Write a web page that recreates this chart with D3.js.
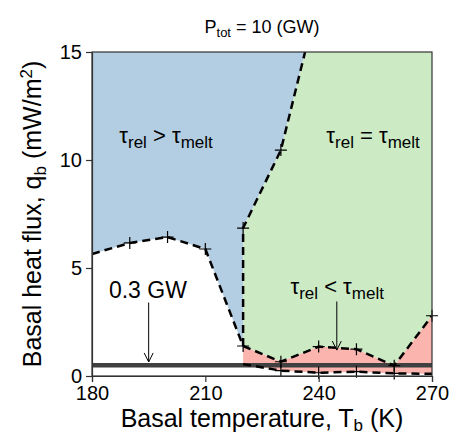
<!DOCTYPE html>
<html><head><meta charset="utf-8">
<script src="https://cdn.jsdelivr.net/npm/d3@7"></script>
<style>body{margin:0;background:#fff}svg{font-family:"Liberation Sans",Arial,sans-serif}</style>
</head><body><svg id="c" width="454" height="436"></svg>
<script>
// Data
const xTicks = [180, 210, 240, 270];
const yTicks = [0, 5, 10, 15];
// white / blue boundary (tau_rel > tau_melt lower limit)
const whiteT = [180, 190, 200, 210, 220];
const whiteQ = [5.65, 6.16, 6.43, 5.88, 1.39];
// blue / green boundary
const greenT = [220, 220, 230, 236.4];
const greenQ = [1.39, 6.85, 10.46, 15];
// red region upper boundary
const redUpT = [220, 230, 240, 250, 260, 270];
const redUpQ = [1.39, 0.66, 1.36, 1.24, 0.48, 2.79];
// red region lower boundary
const redLoT = [220, 230, 240, 250, 260, 270];
const redLoQ = [0.55, 0.25, 0.15, 0.2, 0.12, 0.1];
const powerLineQ = 0.5;   // 0.3 GW line
const markerT = [190, 200, 210, 220, 220, 230, 230, 240, 250, 260, 270, 230, 240, 250, 260];
const markerQ = [6.16, 6.43, 5.88, 1.39, 6.85, 10.46, 0.66, 1.36, 1.24, 0.48, 2.79, 0.25, 0.15, 0.2, 0.12];

const svg = d3.select("#c");
const m = {l: 92, t: 52, r: 22, b: 60};
const W = 454 - m.l - m.r, H = 436 - m.t - m.b;
const x = d3.scaleLinear().domain([180, 270]).range([0, W]);
const y = d3.scaleLinear().domain([0, 15]).range([H, 0]);
const g = svg.append("g").attr("transform", `translate(${m.l},${m.t})`);

g.append("clipPath").attr("id", "clip").append("rect").attr("width", W).attr("height", H);
const P = (T, Q) => T.map((t, i) => [x(t), y(Q[i])]);
const line = d3.line();
const area = g.append("g").attr("clip-path", "url(#clip)");

const white = P(whiteT, whiteQ);
const green = P(greenT, greenQ);
const redUp = P(redUpT, redUpQ);
const redLo = P(redLoT, redLoQ);

// blue polygon
const bluePoly = [[x(180), y(15)], ...green.slice().reverse(), ...white.slice().reverse()];
area.append("path").attr("d", line(bluePoly) + "Z").attr("fill", "#b3cde3");
// green polygon
const greenPoly = [...green, [x(270), y(15)], ...redUp.slice().reverse()];
area.append("path").attr("d", line(greenPoly) + "Z").attr("fill", "#ccebc5");
// red polygon
const redPoly = [...redUp, ...redLo.slice().reverse()];
area.append("path").attr("d", line(redPoly) + "Z").attr("fill", "#fbb4ae");

// power line
area.append("line").attr("x1", 0).attr("x2", W).attr("y1", y(powerLineQ)).attr("y2", y(powerLineQ))
  .attr("stroke", "#404040").attr("stroke-width", 4.5);

// dashed boundaries
const dash = {stroke: "#000", "stroke-width": 2.5, "stroke-dasharray": "8,5", fill: "none"};
[white, green, redUp, redLo].forEach(pts => {
  const p = area.append("path").attr("d", line(pts));
  Object.entries(dash).forEach(([k, v]) => p.attr(k, v));
});

// markers
markerT.forEach((t, i) => {
  const cx = x(t), cy = y(markerQ[i]);
  g.append("path").attr("d", `M${cx-6},${cy}H${cx+6}M${cx},${cy-6}V${cy+6}`)
    .attr("stroke", "#000").attr("stroke-width", 1.2).attr("fill", "none");
});

// frame
g.append("rect").attr("width", W).attr("height", H).attr("fill", "none").attr("stroke", "#333").attr("stroke-width", 1.2);

// axes
const fs = "20px";
const ax = g.append("g").attr("transform", `translate(0,${H})`)
  .call(d3.axisBottom(x).tickValues(xTicks).tickSize(6).tickPadding(4).tickFormat(d3.format("d")));
const ay = g.append("g").call(d3.axisLeft(y).tickValues(yTicks).tickSize(6).tickPadding(4).tickFormat(d3.format("d")));
[ax, ay].forEach(a => {
  a.select(".domain").attr("stroke", "#333").attr("stroke-width", 1.2);
  a.selectAll(".tick line").attr("stroke", "#333").attr("stroke-width", 1.2);
  a.selectAll("text").attr("font-size", fs).attr("fill", "#000").attr("font-family", "Liberation Sans, Arial, sans-serif");
});

// title
const title = svg.append("text").attr("x", m.l + W / 2).attr("y", 33).attr("text-anchor", "middle").attr("font-size", "18px");
title.append("tspan").text("P");
title.append("tspan").attr("font-size", "13px").attr("dy", 4).text("tot");
title.append("tspan").attr("dy", -4).text(" = 10 (GW)");

// x label
const xl = svg.append("text").attr("x", m.l + W / 2).attr("y", 427).attr("text-anchor", "middle").attr("font-size", "25px");
xl.append("tspan").text("Basal temperature, T");
xl.append("tspan").attr("font-size", "17px").attr("dy", 4).text("b");
xl.append("tspan").attr("dy", -4).text(" (K)");

// y label
const yl = svg.append("text").attr("transform", `translate(41,${m.t + H / 2}) rotate(-90)`).attr("text-anchor", "middle").attr("font-size", "25px");
yl.append("tspan").text("Basal heat flux, q");
yl.append("tspan").attr("font-size", "17px").attr("dy", 5).text("b");
yl.append("tspan").attr("dy", -5).text(" (mW/m");
yl.append("tspan").attr("font-size", "17px").attr("dy", -9).text("2");
yl.append("tspan").attr("dy", 9).text(")");

// region labels
function tauLabel(cx, cy, op) {
  const t = g.append("text").attr("x", cx).attr("y", cy).attr("text-anchor", "middle").attr("font-size", "22px");
  t.append("tspan").text("τ");
  t.append("tspan").attr("font-size", "17px").attr("dy", 5).text("rel");
  t.append("tspan").attr("dy", -5).text(" " + op + " τ");
  t.append("tspan").attr("font-size", "17px").attr("dy", 5).text("melt");
}
tauLabel(x(199.6), y(10.8), ">");
tauLabel(x(254.4), y(10.8), "=");
tauLabel(x(244.9), y(3.8), "<");

g.append("text").attr("x", x(194.8)).attr("y", y(3.61)).attr("text-anchor", "middle").attr("font-size", "23px").text("0.3 GW");

function arrow(t, q1, q2) {
  const ax0 = x(t), y1 = y(q1), y2 = y(q2);
  g.append("path").attr("d", `M${ax0},${y1}V${y2}M${ax0-4.5},${y2-9}L${ax0},${y2}L${ax0+4.5},${y2-9}`)
    .attr("stroke", "#000").attr("stroke-width", 1).attr("fill", "none");
}
arrow(195, 3.4, 0.65);
arrow(244.8, 3.45, 1.2);
</script></body></html>
